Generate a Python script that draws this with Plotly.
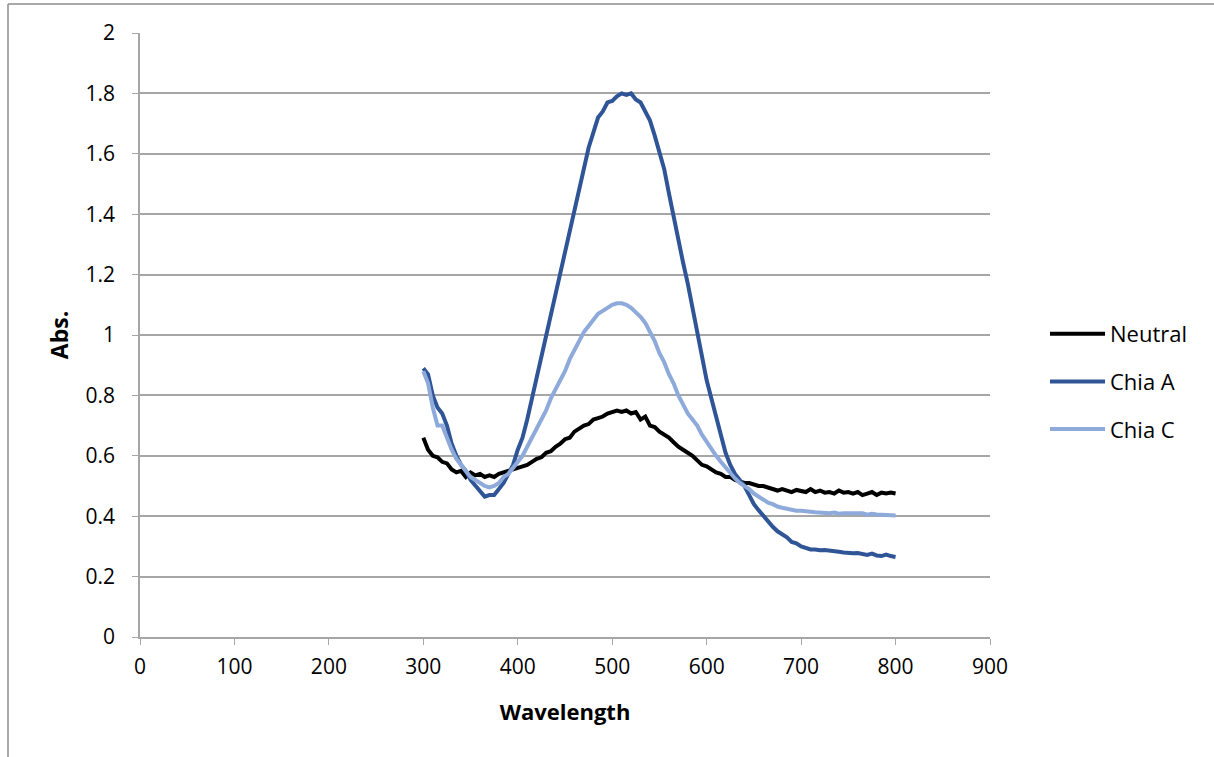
import plotly.graph_objects as go

# Wavelength grid (nm) and absorbance spectra
wavelength = list(range(300, 805, 5))

neutral = [
    0.66, 0.62, 0.60, 0.595, 0.58, 0.575, 0.555, 0.545, 0.55, 0.53,
    0.545, 0.535, 0.54, 0.53, 0.535, 0.53, 0.54, 0.545, 0.55, 0.555,
    0.56, 0.565, 0.57, 0.58, 0.59, 0.595, 0.61, 0.615, 0.63, 0.64,
    0.655, 0.66, 0.68, 0.69, 0.70, 0.705, 0.72, 0.725, 0.73, 0.74,
    0.745, 0.75, 0.745, 0.75, 0.74, 0.745, 0.72, 0.73, 0.70, 0.695,
    0.68, 0.67, 0.66, 0.645, 0.63, 0.62, 0.61, 0.60, 0.585, 0.57,
    0.565, 0.555, 0.545, 0.54, 0.53, 0.53, 0.52, 0.515, 0.51, 0.51,
    0.505, 0.50, 0.50, 0.495, 0.49, 0.485, 0.49, 0.485, 0.48, 0.487,
    0.485, 0.48, 0.49, 0.48, 0.485, 0.478, 0.48, 0.475, 0.485, 0.478,
    0.48, 0.475, 0.48, 0.47, 0.475, 0.48, 0.47, 0.478, 0.475, 0.478,
    0.475,
]

chia_a = [
    0.89, 0.87, 0.80, 0.76, 0.74, 0.70, 0.64, 0.60, 0.57, 0.55,
    0.52, 0.50, 0.48, 0.465, 0.47, 0.47, 0.49, 0.51, 0.54, 0.57,
    0.62, 0.66, 0.72, 0.79, 0.86, 0.93, 0.99, 1.06, 1.13, 1.20,
    1.27, 1.35, 1.42, 1.49, 1.56, 1.62, 1.67, 1.72, 1.74, 1.77,
    1.775, 1.79, 1.80, 1.795, 1.80, 1.78, 1.77, 1.74, 1.71, 1.66,
    1.61, 1.55, 1.47, 1.39, 1.32, 1.24, 1.17, 1.09, 1.00, 0.93,
    0.85, 0.79, 0.73, 0.66, 0.61, 0.57, 0.54, 0.52, 0.50, 0.47,
    0.44, 0.42, 0.40, 0.38, 0.365, 0.35, 0.34, 0.33, 0.315, 0.31,
    0.30, 0.295, 0.29, 0.29, 0.287, 0.288, 0.285, 0.283, 0.282, 0.28,
    0.278, 0.277, 0.278, 0.275, 0.272, 0.276, 0.27, 0.268, 0.273, 0.268,
    0.265,
]

chia_c = [
    0.88, 0.84, 0.76, 0.70, 0.70, 0.66, 0.62, 0.59, 0.57, 0.55,
    0.53, 0.52, 0.51, 0.50, 0.495, 0.50, 0.51, 0.53, 0.54, 0.56,
    0.58, 0.60, 0.63, 0.66, 0.69, 0.72, 0.75, 0.79, 0.82, 0.85,
    0.88, 0.92, 0.95, 0.98, 1.01, 1.03, 1.05, 1.07, 1.08, 1.09,
    1.10, 1.105, 1.105, 1.10, 1.09, 1.075, 1.06, 1.04, 1.01, 0.98,
    0.94, 0.91, 0.87, 0.84, 0.80, 0.77, 0.74, 0.72, 0.70, 0.67,
    0.645, 0.62, 0.60, 0.58, 0.56, 0.54, 0.525, 0.51, 0.50, 0.49,
    0.475, 0.465, 0.455, 0.445, 0.44, 0.432, 0.428, 0.425, 0.42, 0.418,
    0.418, 0.415, 0.415, 0.413, 0.412, 0.41, 0.41, 0.412, 0.408, 0.41,
    0.41, 0.409, 0.408, 0.41, 0.405, 0.408, 0.406, 0.405, 0.403, 0.405,
    0.402,
]

x_ticks = [0, 100, 200, 300, 400, 500, 600, 700, 800, 900]
y_ticks = [0, 0.2, 0.4, 0.6, 0.8, 1, 1.2, 1.4, 1.6, 1.8, 2]
y_tick_text = ["0", "0.2", "0.4", "0.6", "0.8", "1", "1.2", "1.4", "1.6", "1.8", "2"]

series = [
    ("Neutral", neutral, "#000000"),
    ("Chia A", chia_a, "#2F5597"),
    ("Chia C", chia_c, "#8EAADB"),
]

FONT = "'Open Sans', Lato, sans-serif"
GRID = "#A6A6A6"

fig = go.Figure()
for name, values, color in series:
    fig.add_trace(go.Scatter(
        x=wavelength, y=values, name=name, mode="lines",
        legendgroup=name,
        line=dict(color=color, width=4),
    ))

# Plot area in pixels: left 140, right 990, top 33, bottom 637
L, R, T, B = 140, 990, 33, 637
W, H = R - L, B - T


def px(xp):
    return (xp - L) / W


def py(yp):
    return (B - yp) / H


fig.update_layout(
    width=1214, height=757,
    margin=dict(l=L, r=1214 - R, t=T, b=757 - B),
    paper_bgcolor="white", plot_bgcolor="white",
    font=dict(family=FONT, size=21, color="#000000"),
    showlegend=True,
    legend=dict(
        x=px(1045), y=py(313), xanchor="left", yanchor="top",
        font=dict(family=FONT, size=22),
        itemwidth=55, tracegroupgap=16,
        bgcolor="rgba(0,0,0,0)",
    ),
    xaxis=dict(
        range=[0, 900], tickvals=x_ticks, ticks="outside", ticklen=6,
        tickcolor=GRID, showline=True, linecolor=GRID, linewidth=1.5,
        showgrid=False, zeroline=False,
        title=dict(text="<b>Wavelength</b>", font=dict(family=FONT, size=22), standoff=26),
        ticklabelstandoff=4,
    ),
    yaxis=dict(
        range=[0, 2], tickvals=y_ticks, ticktext=y_tick_text, ticks="outside", ticklen=6,
        tickcolor=GRID, showline=True, linecolor=GRID, linewidth=1.5,
        showgrid=True, gridcolor=GRID, gridwidth=1.5, zeroline=False,
        title=dict(text="<b>Abs.</b>", font=dict(family=FONT, size=23), standoff=10),
        ticklabelstandoff=13,
    ),
    shapes=[
        # outer chart frame (left and top edges)
        dict(type="line", xref="paper", yref="paper",
             x0=px(8), x1=px(8), y0=py(4), y1=py(800),
             line=dict(color="#8C8C8C", width=1.5)),
        dict(type="line", xref="paper", yref="paper",
             x0=px(8), x1=px(1300), y0=py(4), y1=py(4),
             line=dict(color="#8C8C8C", width=1.5)),
    ],
)

fig.write_html("out.html")
